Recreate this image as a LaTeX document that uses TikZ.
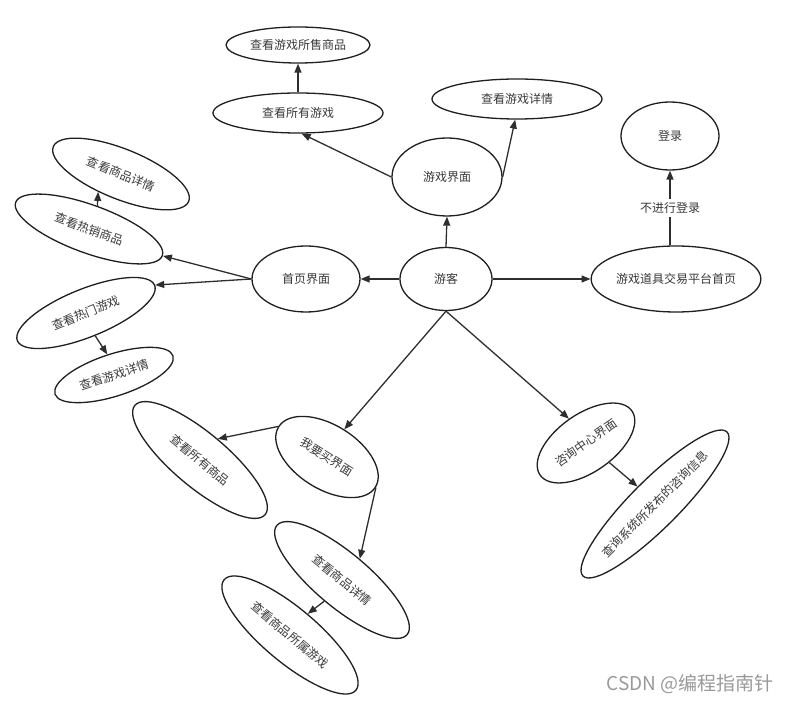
\documentclass[tikz,border=0pt]{standalone}
\usepackage{fontspec}
\setmainfont{Noto Sans CJK SC}
\usetikzlibrary{shapes.geometric,arrows.meta}

\begin{document}
\begin{tikzpicture}[x=1pt, y=-1pt,
			bubble/.style={ellipse, draw=black!88, line width=1.3pt, inner sep=0pt,
			               text=black!78, font=\fontsize{12}{14}\selectfont},
			link/.style={-{Triangle[length=9pt,width=7pt]}, draw=black!82, line width=1.3pt}]

			\useasboundingbox (0,0) rectangle (793,703);

			% the visitor in the middle
			\node [bubble, minimum width=92, minimum height=63] (youke) at (446,279) {游客};
			\node [bubble, minimum width=108, minimum height=66] (shouye) at (306,279) {首页界面};
			\node [bubble, minimum width=110, minimum height=78] (youxi) at (447,177) {游戏界面};
			\node [bubble, minimum width=164, minimum height=66] (pingtai) at (676,279) {游戏道具交易平台首页};
			\node [bubble, minimum width=98, minimum height=68] (denglu) at (670,136) {登录};

			% game page
			\node [bubble, minimum width=170, minimum height=40] (syyx) at (298,113) {查看所有游戏};
			\node [bubble, minimum width=144, minimum height=36] (sssp) at (298,45) {查看游戏所售商品};
			\node [bubble, minimum width=170, minimum height=40] (yxxq) at (517,99) {查看游戏详情};

			% home page
			\node [bubble, rotate=-20, minimum width=156, minimum height=48] (rexiao) at (89,229) {查看热销商品};
			\node [bubble, rotate=-22, minimum width=146, minimum height=50] (spxq) at (121,174) {查看商品详情};
			\node [bubble, rotate=22, minimum width=148, minimum height=48] (remen) at (86,313) {查看热门游戏};
			\node [bubble, rotate=18, minimum width=124, minimum height=42] (yxxqb) at (114,375) {查看游戏详情};

			% buying page
			\node [bubble, rotate=-32, minimum width=114, minimum height=64] (goumai) at (327,457) {我要买界面};
			\node [bubble, rotate=-40, minimum width=170, minimum height=54] (sysp) at (200,460) {查看所有商品};
			\node [bubble, rotate=-40, minimum width=170, minimum height=54] (spxqb) at (342,580) {查看商品详情};
			\node [bubble, rotate=-40, minimum width=172, minimum height=54] (ssyx) at (290,635) {查看商品所属游戏};

			% help centre
			\node [bubble, rotate=35, minimum width=112, minimum height=58] (zixun) at (586,443) {咨询中心界面};
			\node [bubble, rotate=45, minimum width=166, minimum height=48] (xinxi) at (655,504) {查询系统所发布的咨询信息};

			\draw [link] (youke.west) -- (shouye.east);
			\draw [link] (youke.north) -- (youxi.south);
			\draw [link] (youke.east) -- (pingtai.west);
			\draw [link] (youke.south) -- (goumai.north);
			\draw [link] (youke.south) -- (zixun.north);

			\draw [link] (youxi.west) -- (syyx.-80);
			\draw [link] (youxi.east) -- (yxxq.-95);
			\draw [link] (syyx.north) -- (sssp.south);

			\draw [link] (pingtai.north -| denglu.south) -- node [fill=white, text=black!78, font=\fontsize{12}{14}\selectfont] (tip) {不进行登录} (denglu.south);

			\draw [link] (shouye.west) -- (rexiao.east);
			\draw [link] (shouye.west) -- (remen.east);
			\draw [link] (rexiao.north) -- (spxq.-120);
			\draw [link] (remen.south) -- (yxxqb.north);

			\draw [link] (goumai.west) -- (sysp.north);
			\draw [link] (goumai.east) -- (spxqb.north);
			\draw [link] (spxqb.south) -- (ssyx.north);

			\draw [link] (zixun.-75) -- (xinxi.north);

			\node [text=black!40, font=\fontsize{19}{22}\selectfont, anchor=east] (csdn) at (777,684) {CSDN @编程指南针};
		\end{tikzpicture}
\end{document}
